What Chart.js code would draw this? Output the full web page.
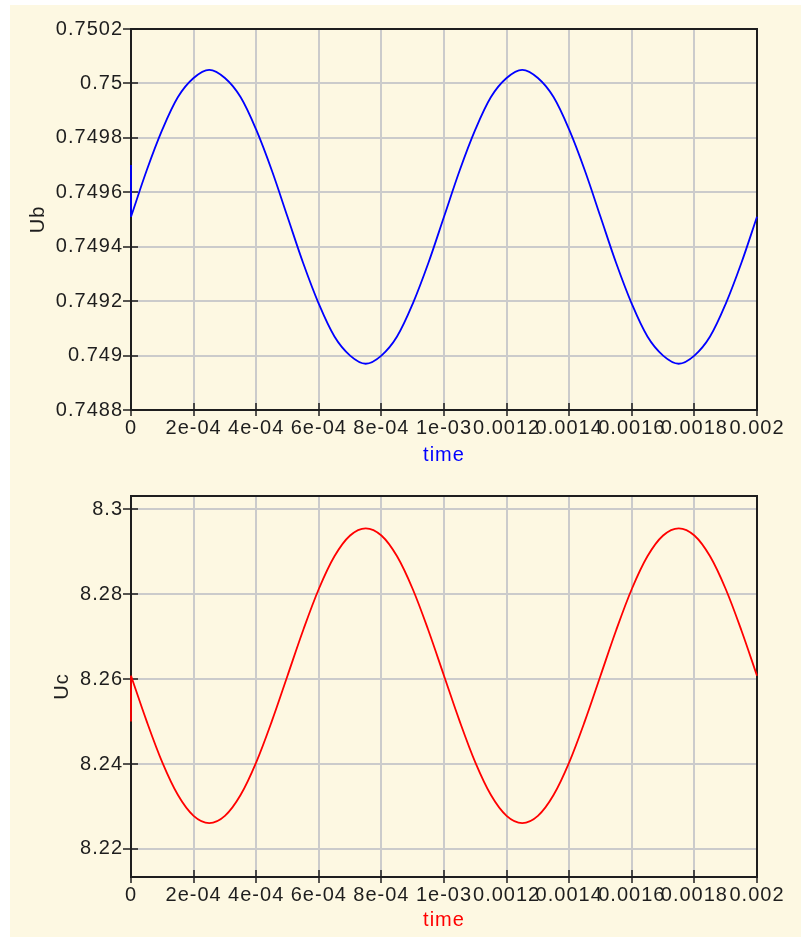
<!DOCTYPE html>
<html>
<head>
<meta charset="utf-8">
<title>Ub / Uc</title>
<script src="https://cdn.jsdelivr.net/npm/chart.js@4/dist/chart.umd.min.js"></script>
<style>
  html, body { margin: 0; padding: 0; background: #ffffff; }
  #panel { position: absolute; left: 10px; top: 5px; width: 791px; height: 932px; background: #fdf8e2; }
  canvas { position: absolute; left: 0; }
  #c1 { top: 0; }
  #c2 { top: 470px; }
</style>
</head>
<body>
<div id="panel"></div>
<canvas id="c1" width="801" height="470"></canvas>
<canvas id="c2" width="801" height="471"></canvas>
<script>
// Simulation output sampled every 50 µs over two periods
const time = [0, 0.00005, 0.0001, 0.00015, 0.0002, 0.00025, 0.0003, 0.00035, 0.0004, 0.00045,
              0.0005, 0.00055, 0.0006, 0.00065, 0.0007, 0.00075, 0.0008, 0.00085, 0.0009, 0.00095,
              0.001, 0.00105, 0.0011, 0.00115, 0.0012, 0.00125, 0.0013, 0.00135, 0.0014, 0.00145,
              0.0015, 0.00155, 0.0016, 0.00165, 0.0017, 0.00175, 0.0018, 0.00185, 0.0019, 0.00195, 0.002];

const ub = [0.74951, 0.74968, 0.74983, 0.74995, 0.75002, 0.75005, 0.75002, 0.74995, 0.74983, 0.74968,
            0.74951, 0.74934, 0.74919, 0.74907, 0.74900, 0.74897, 0.74900, 0.74907, 0.74919, 0.74934,
            0.74951, 0.74968, 0.74983, 0.74995, 0.75002, 0.75005, 0.75002, 0.74995, 0.74983, 0.74968,
            0.74951, 0.74934, 0.74919, 0.74907, 0.74900, 0.74897, 0.74900, 0.74907, 0.74919, 0.74934, 0.74951];

const uc = [8.2608, 8.2501, 8.2404, 8.2327, 8.2278, 8.2261, 8.2278, 8.2327, 8.2404, 8.2501,
            8.2608, 8.2715, 8.2812, 8.2889, 8.2938, 8.2955, 8.2938, 8.2889, 8.2812, 8.2715,
            8.2608, 8.2501, 8.2404, 8.2327, 8.2278, 8.2261, 8.2278, 8.2327, 8.2404, 8.2501,
            8.2608, 8.2715, 8.2812, 8.2889, 8.2938, 8.2955, 8.2938, 8.2889, 8.2812, 8.2715, 8.2608];

// initial step at t = 0 (initial condition, then first solver value)
const ubInitial = [0.7497, 0.74951];
const ucInitial = [8.25, 8.2608];

// axis ticks
const timeTicks = [0, 0.0002, 0.0004, 0.0006, 0.0008, 0.001, 0.0012, 0.0014, 0.0016, 0.0018, 0.002];
const timeTickLabels = ['0', '2e-04', '4e-04', '6e-04', '8e-04', '1e-03', '0.0012', '0.0014', '0.0016', '0.0018', '0.002'];
const ubTicks = [0.7488, 0.749, 0.7492, 0.7494, 0.7496, 0.7498, 0.75, 0.7502];
const ubTickLabels = ['0.7488', '0.749', '0.7492', '0.7494', '0.7496', '0.7498', '0.75', '0.7502'];
const ucTicks = [8.22, 8.24, 8.26, 8.28, 8.3];
const ucTickLabels = ['8.22', '8.24', '8.26', '8.28', '8.3'];

const FONT = "'Liberation Sans', Arial, sans-serif";
const INK = '#1e1e1e';
const GRID = '#cbcbcb';

// wide, evenly spaced digits like the plotting tool's UI font
// (set after every canvas resize, since resizing resets the context state)
const spacingPlugin = {
  id: 'spacing',
  beforeLayout(chart) { chart.ctx.letterSpacing = '1px'; },
  beforeDraw(chart) { chart.ctx.letterSpacing = '1px'; }
};

// plot frame plus the inner half of each tick mark
const framePlugin = {
  id: 'frame',
  beforeDatasetsDraw(chart) {
    const { ctx, chartArea: a, scales: { x, y } } = chart;
    ctx.save();
    ctx.strokeStyle = INK;
    ctx.lineWidth = 2;
    ctx.strokeRect(a.left, a.top, a.right - a.left, a.bottom - a.top);
    ctx.lineWidth = 1.5;
    ctx.beginPath();
    y.ticks.forEach(t => {
      const py = Math.round(y.getPixelForValue(t.value));
      ctx.moveTo(a.left, py); ctx.lineTo(a.left + 7, py);
    });
    x.ticks.forEach(t => {
      const px = Math.round(x.getPixelForValue(t.value));
      ctx.moveTo(px, a.bottom); ctx.lineTo(px, a.bottom - 7);
    });
    ctx.stroke();
    ctx.restore();
  }
};

function buildChart(canvas, opt) {
  const series = time.map((t, i) => ({ x: t, y: opt.values[i] }));
  const step = opt.initial.map(v => ({ x: 0, y: v }));
  return new Chart(canvas, {
    type: 'line',
    data: {
      datasets: [
        { data: step, borderColor: opt.color, borderWidth: 1.8, pointRadius: 0, tension: 0, clip: 4 },
        { data: series, borderColor: opt.color, borderWidth: 1.8, pointRadius: 0, tension: 0.33, clip: 4 }
      ]
    },
    options: {
      responsive: false,
      animation: false,
      events: [],
      layout: { padding: opt.padding },
      plugins: { legend: { display: false }, tooltip: { enabled: false } },
      scales: {
        x: {
          type: 'linear', min: 0, max: 0.002,
          afterBuildTicks: s => { s.ticks = timeTicks.map(v => ({ value: v })); },
          afterFit: s => { s.height = opt.xHeight; },
          ticks: {
            autoSkip: false, maxRotation: 0, minRotation: 0, padding: 0,
            color: INK, font: { family: FONT, size: 20 },
            callback: (v, i) => timeTickLabels[i]
          },
          grid: { color: GRID, lineWidth: 2, tickColor: INK, tickLength: 6, tickWidth: 1.5 },
          border: { display: false },
          title: { display: true, text: 'time', color: opt.color, font: { family: FONT, size: 20 }, padding: 0 }
        },
        y: {
          type: 'linear', min: opt.yMin, max: opt.yMax,
          afterBuildTicks: s => { s.ticks = opt.yTicks.map(v => ({ value: v })); },
          afterFit: s => { s.width = opt.yWidth; },
          ticks: {
            padding: 0, color: INK, font: { family: FONT, size: 20 },
            callback: (v, i) => opt.yTickLabels[i]
          },
          grid: { color: GRID, lineWidth: 2, tickColor: INK, tickLength: 8, tickWidth: 1.5 },
          border: { display: false },
          title: { display: true, text: opt.yTitle, color: INK, font: { family: FONT, size: 20 }, padding: 0 }
        }
      }
    },
    plugins: [spacingPlugin, framePlugin]
  });
}

buildChart(document.getElementById('c1'), {
  values: ub, initial: ubInitial, color: '#0000ff',
  yMin: 0.7488, yMax: 0.7502, yTicks: ubTicks, yTickLabels: ubTickLabels, yTitle: 'Ub',
  padding: { left: 26, top: 29, right: 44, bottom: 3 }, yWidth: 105, xHeight: 57
});

buildChart(document.getElementById('c2'), {
  values: uc, initial: ucInitial, color: '#ff0000',
  yMin: 8.2134, yMax: 8.3031, yTicks: ucTicks, yTickLabels: ucTickLabels, yTitle: 'Uc',
  padding: { left: 50, top: 26, right: 44, bottom: 9 }, yWidth: 81, xHeight: 55
});
</script>
</body>
</html>
